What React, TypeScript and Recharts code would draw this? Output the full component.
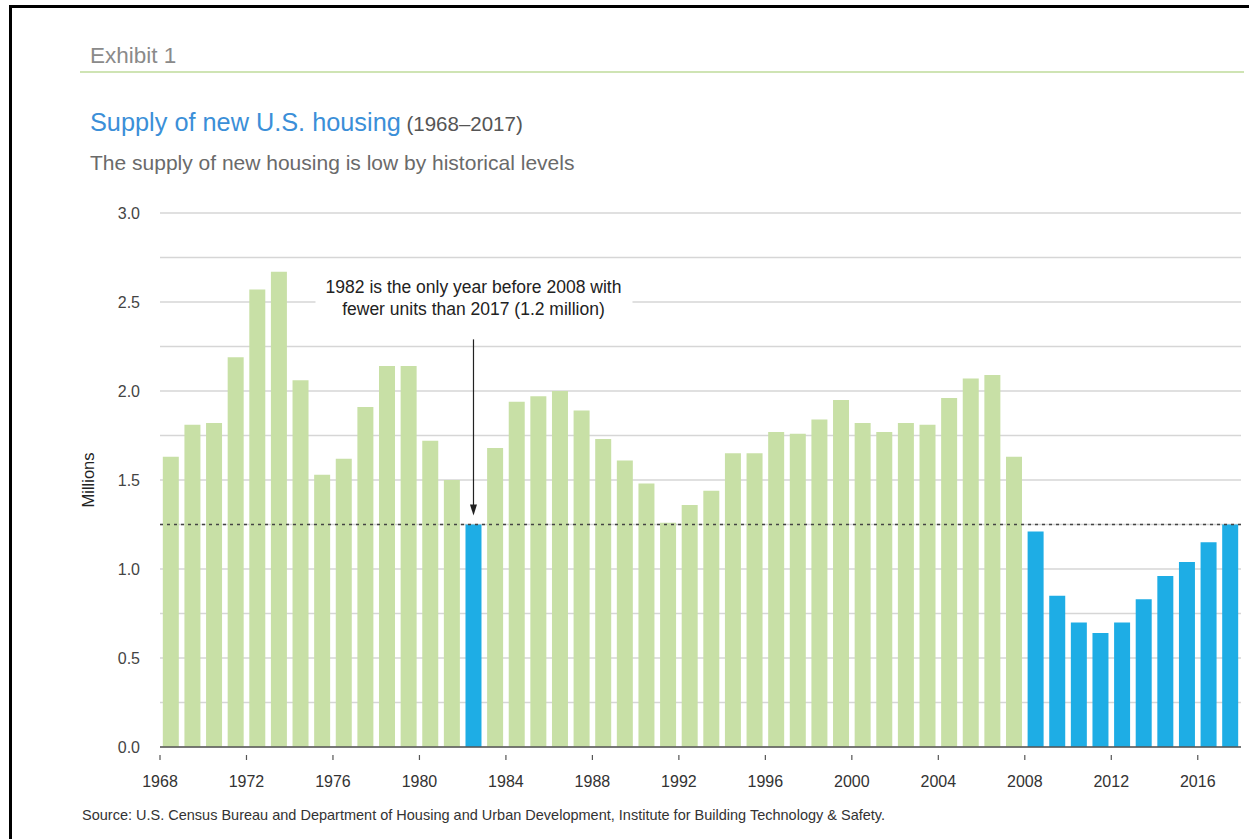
import React from 'react';
import { BarChart, Bar, XAxis, YAxis, CartesianGrid, ReferenceLine, ReferenceDot, Cell } from 'recharts';

const years = [
  '1968', '1969', '1970', '1971', '1972', '1973', '1974', '1975', '1976', '1977',
  '1978', '1979', '1980', '1981', '1982', '1983', '1984', '1985', '1986', '1987',
  '1988', '1989', '1990', '1991', '1992', '1993', '1994', '1995', '1996', '1997',
  '1998', '1999', '2000', '2001', '2002', '2003', '2004', '2005', '2006', '2007',
  '2008', '2009', '2010', '2011', '2012', '2013', '2014', '2015', '2016', '2017',
];

const units = [
  1.63, 1.81, 1.82, 2.19, 2.57, 2.67, 2.06, 1.53, 1.62, 1.91,
  2.14, 2.14, 1.72, 1.50, 1.25, 1.68, 1.94, 1.97, 2.00, 1.89,
  1.73, 1.61, 1.48, 1.26, 1.36, 1.44, 1.65, 1.65, 1.77, 1.76,
  1.84, 1.95, 1.82, 1.77, 1.82, 1.81, 1.96, 2.07, 2.09, 1.63,
  1.21, 0.85, 0.70, 0.64, 0.70, 0.83, 0.96, 1.04, 1.15, 1.25,
];

const highlightYears = ['1982', '2008', '2009', '2010', '2011', '2012', '2013', '2014', '2015', '2016', '2017'];

const yTicks = [0, 0.25, 0.5, 0.75, 1, 1.25, 1.5, 1.75, 2, 2.25, 2.5, 2.75, 3];
const benchmark = 1.25;
const annotationYear = '1982';
const annotationLines = ['1982 is the only year before 2008 with', 'fewer units than 2017 (1.2 million)'];

const data = years.map((y, i) => ({ year: y, value: units[i] }));

const FONT = '"Liberation Sans", Arial, Helvetica, sans-serif';
const GREEN = '#c8e0a6';
const BLUE = '#1eade5';

const YearTick = (props: any) => {
  const { x, y, payload } = props;
  const half = payload && payload.offset ? payload.offset : 0;
  const bx = x - half;
  return (
    <g>
      <line x1={bx} y1={y} x2={bx} y2={y + 5} stroke="#555" strokeWidth={1.2} />
      <text x={bx} y={y + 32} textAnchor="middle" fontSize={16} fill="#333" fontFamily={FONT}>
        {payload.value}
      </text>
    </g>
  );
};

const AnnotationShape = (props: any) => {
  const { cx, cy } = props;
  return (
    <g>
      <rect x={cx - 158} y={cy - 24} width={317} height={47} fill="#fff" />
      <text x={cx} y={cy - 11} textAnchor="middle" dominantBaseline="central" fontSize={17.5} fill="#222" fontFamily={FONT}>
        {annotationLines[0]}
      </text>
      <text x={cx} y={cy + 11} textAnchor="middle" dominantBaseline="central" fontSize={17.5} fill="#222" fontFamily={FONT}>
        {annotationLines[1]}
      </text>
    </g>
  );
};

const ArrowHead = (props: any) => {
  const { cx, cy } = props;
  return <path d={`M${cx - 3.5},${cy - 11} L${cx + 3.5},${cy - 11} L${cx},${cy} Z`} fill="#222" />;
};

export default function App() {
  return (
    <div style={{ position: 'absolute', left: 0, top: 0, width: 1249, height: 839, background: '#fff', fontFamily: FONT }}>
      <div style={{ position: 'absolute', left: 9, top: 5, width: 1240, height: 834, borderTop: '3px solid #000', borderLeft: '3px solid #000' }} />
      <div style={{ position: 'absolute', left: 90, top: 43, fontSize: 22.5, color: '#8a8a8a', lineHeight: '26px' }}>Exhibit 1</div>
      <div style={{ position: 'absolute', left: 80, top: 71, width: 1164, height: 2, background: '#cfe4b4' }} />
      <div style={{ position: 'absolute', left: 90, top: 107, lineHeight: '30px', whiteSpace: 'nowrap' }}>
        <span style={{ fontSize: 25.3, color: '#3b8fd8' }}>Supply of new U.S. housing</span>
        <span style={{ fontSize: 20.5, color: '#555' }}> (1968–2017)</span>
      </div>
      <div style={{ position: 'absolute', left: 90, top: 150, fontSize: 21, color: '#6a6a6a', lineHeight: '26px', whiteSpace: 'nowrap' }}>
        The supply of new housing is low by historical levels
      </div>
      <div style={{ position: 'absolute', left: 0, top: 0 }}>
        <BarChart
          width={1249}
          height={839}
          data={data}
          margin={{ top: 213, right: 8, bottom: 52, left: 100 }}
          barCategoryGap="13%"
        >
          <CartesianGrid vertical={false} stroke="#d6d6d6" strokeWidth={1.5} />
          <XAxis
            dataKey="year"
            height={40}
            interval={3}
            axisLine={{ stroke: '#555', strokeWidth: 1.5 }}
            tickLine={false}
            tick={<YearTick />}
          />
          <YAxis
            domain={[0, 3]}
            ticks={yTicks}
            width={60}
            axisLine={false}
            tickLine={false}
            tickSize={0}
            tickMargin={20}
            interval={0}
            tickFormatter={(v: number) => (Math.round(v * 100) % 50 === 0 ? v.toFixed(1) : '')}
            tick={{ fontSize: 16, fill: '#444', fontFamily: FONT }}
            label={{
              content: (p: any) => {
                const vb = p.viewBox || {};
                const x = vb.x - 12;
                const y = vb.y + vb.height / 2;
                return (
                  <text x={x} y={y} transform={`rotate(-90, ${x}, ${y})`} textAnchor="middle" dominantBaseline="central" fontSize={16.5} fill="#222" fontFamily={FONT}>
                    Millions
                  </text>
                );
              },
            }}
          />
          <Bar dataKey="value" isAnimationActive={false}>
            {data.map((d) => (
              <Cell key={d.year} fill={highlightYears.includes(d.year) ? BLUE : GREEN} />
            ))}
          </Bar>
          <ReferenceLine y={benchmark} stroke="#444" strokeWidth={1.5} strokeDasharray="3 4" />
          <ReferenceDot x={annotationYear} y={2.52} r={0} shape={AnnotationShape} />
          <ReferenceLine
            segment={[{ x: annotationYear, y: 2.29 }, { x: annotationYear, y: 1.34 }]}
            stroke="#222"
            strokeWidth={1.2}
          />
          <ReferenceDot x={annotationYear} y={1.30} r={0} shape={ArrowHead} />
        </BarChart>
      </div>
      <div style={{ position: 'absolute', left: 82, top: 806, fontSize: 14.5, color: '#333', whiteSpace: 'nowrap', lineHeight: '18px' }}>
        Source: U.S. Census Bureau and Department of Housing and Urban Development, Institute for Building Technology &amp; Safety.
      </div>
    </div>
  );
}
